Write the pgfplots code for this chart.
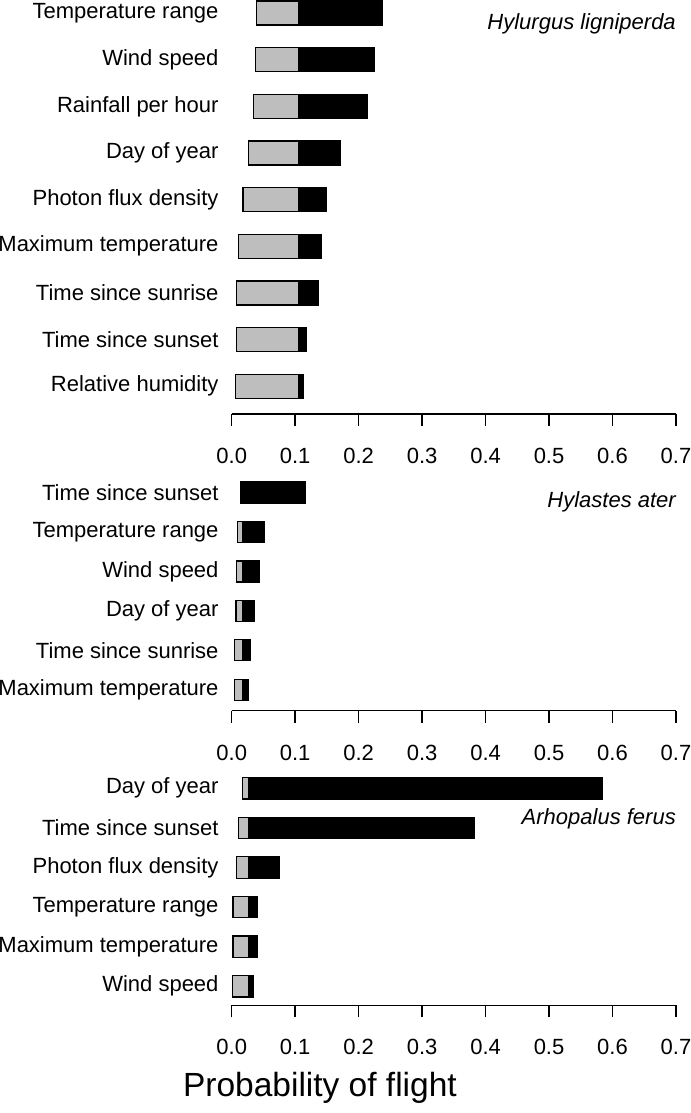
\documentclass[border=0pt]{standalone}
\usepackage{fontspec}
\setmainfont{Liberation Sans}
\usepackage{pgfplots}
\usepackage{pgfplotstable}
\pgfplotsset{compat=1.18}
\definecolor{bargray}{RGB}{190,190,190}

\pgfplotstableread{
y low base high
0 0.039 0.105 0.237
-1 0.038 0.105 0.224
-2 0.034 0.105 0.214
-3 0.027 0.105 0.171
-4 0.018 0.105 0.149
-5 0.011 0.105 0.141
-6 0.008 0.105 0.137
-7 0.008 0.105 0.117
-8 0.006 0.105 0.113
}\tabA

\pgfplotstableread{
y low base high
0 0.0147 0.018 0.116
-1 0.0094 0.018 0.051
-2 0.0079 0.018 0.043
-3 0.0068 0.018 0.035
-4 0.0047 0.018 0.029
-5 0.0047 0.018 0.027
}\tabB

\pgfplotstableread{
y low base high
0 0.017 0.026 0.584
-1 0.011 0.026 0.383
-2 0.008 0.026 0.075
-3 0.002 0.026 0.040
-4 0.002 0.026 0.040
-5 0.001 0.026 0.034
}\tabC

\pgfplotsset{tornado/.style={
  scale only axis, width=444.3bp, xmin=0, xmax=0.7,
  axis x line*=bottom, axis y line*=left, y axis line style={draw=none},
  xbar stacked,
  xtick={0,0.1,0.2,0.3,0.4,0.5,0.6,0.7},
  xticklabels={0.0,0.1,0.2,0.3,0.4,0.5,0.6,0.7},
  major tick length=12bp, ytick style={draw=none},
  x axis line style={line width=1.5bp}, xtick style={line width=1.5bp, black, yshift=-12bp},
  tick label style={font=\fontsize{22bp}{25bp}\selectfont},
  xticklabel style={anchor=north, inner sep=0pt, yshift=-34bp},
  yticklabel style={anchor=east, inner sep=0pt, xshift=-13bp},
  clip=false,
},
lowseg/.style={draw=none, fill=none},
grayseg/.style={fill=bargray, draw=black, line width=1.3bp},
blackseg/.style={fill=black, draw=black, line width=1.3bp},
}

\begin{document}
\begin{tikzpicture}
\path[use as bounding box] (0,0) rectangle (691bp,-1113bp);

\begin{axis}[tornado, at={(231.7bp,-414bp)}, anchor=south west,
  height=414bp, ymin=-8.594, ymax=0.2786, bar width=0.514,
  ytick={0,-1,-2,-3,-4,-5,-6,-7,-8},
  yticklabels={Temperature range,Wind speed,Rainfall per hour,Day of year,Photon flux density,Maximum temperature,Time since sunrise,Time since sunset,Relative humidity}]
\addplot[lowseg] table[x=low, y=y] {\tabA};
\addplot[grayseg] table[x expr=\thisrow{base}-\thisrow{low}, y=y] {\tabA};
\addplot[blackseg] table[x expr=\thisrow{high}-\thisrow{base}, y=y] {\tabA};
\node[anchor=base east, inner sep=0pt, font=\fontsize{22bp}{25bp}\selectfont\itshape] at (axis cs:0.7,-0.349) {Hylurgus ligniperda};
\end{axis}

\begin{axis}[tornado, at={(231.7bp,-710.7bp)}, anchor=south west,
  height=240.7bp, ymin=-5.532, ymax=0.570, bar width=0.532,
  ytick={0,-1,-2,-3,-4,-5},
  yticklabels={Time since sunset,Temperature range,Wind speed,Day of year,Time since sunrise,Maximum temperature}]
\addplot[lowseg] table[x=low, y=y] {\tabB};
\addplot[grayseg] table[x expr=\thisrow{base}-\thisrow{low}, y=y] {\tabB};
\addplot[blackseg] table[x expr=\thisrow{high}-\thisrow{base}, y=y] {\tabB};
\node[anchor=base east, inner sep=0pt, font=\fontsize{22bp}{25bp}\selectfont\itshape] at (axis cs:0.7,-0.385) {Hylastes ater};
\end{axis}

\begin{axis}[tornado, at={(231.7bp,-1005.3bp)}, anchor=south west,
  height=240.3bp, ymin=-5.483, ymax=0.589, bar width=0.54,
  ytick={0,-1,-2,-3,-4,-5},
  yticklabels={Day of year,Time since sunset,Photon flux density,Temperature range,Maximum temperature,Wind speed}]
\addplot[lowseg] table[x=low, y=y] {\tabC};
\addplot[grayseg] table[x expr=\thisrow{base}-\thisrow{low}, y=y] {\tabC};
\addplot[blackseg] table[x expr=\thisrow{high}-\thisrow{base}, y=y] {\tabC};
\node[anchor=base east, inner sep=0pt, font=\fontsize{22bp}{25bp}\selectfont\itshape] at (axis cs:0.7,-0.902) {Arhopalus ferus};
\node[anchor=base, inner sep=0pt, font=\fontsize{33.5bp}{38bp}\selectfont] at (axis cs:0.139,-7.792) {Probability of flight};
\end{axis}
\end{tikzpicture}
\end{document}
